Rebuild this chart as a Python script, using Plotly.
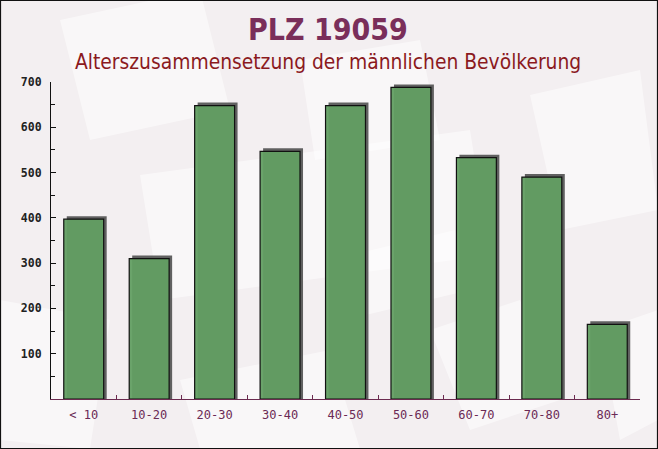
import plotly.graph_objects as go

categories = ["< 10", "10-20", "20-30", "30-40", "40-50", "50-60", "60-70", "70-80", "80+"]
values = [397, 310, 648, 547, 648, 688, 533, 490, 165]
y_ticks = [100, 200, 300, 400, 500, 600, 700]
title_text = "PLZ 19059"
subtitle_text = "Alterszusammensetzung der männlichen Bevölkerung"

W, H = 658, 449
L, R, T, B = 51, 18, 82, 50
PW, PH = W - L - R, H - T - B
YMAX = 700

def px(x):
    return (x - L) / PW

def py(y):
    return (H - B - y) / PH

# shadow offset: 3 px right, 3 px up
dx = 3 / (PW / len(categories))
dy = 3 / (PH / YMAX)

fig = go.Figure()

# shadow bars on base axes (hidden, shifted ranges) -> drawn first / behind
fig.add_trace(go.Bar(
    x=categories, y=[v + dy for v in values], base=[-dy] * len(values),
    xaxis="x", yaxis="y",
    marker=dict(color="rgba(80,80,80,0.9)", line=dict(width=0)),
    width=0.61, hoverinfo="skip", showlegend=False,
))
# main bars on overlay axes (visible)
fig.add_trace(go.Bar(
    x=categories, y=values,
    xaxis="x2", yaxis="y2",
    marker=dict(color="rgba(98,158,98,0.95)", line=dict(color="#111111", width=1.2)),
    width=0.61, showlegend=False,
))

# decorative envelope-like background shapes
shapes = []
envs = [
    [(60, 20), (200, -10), (230, 110), (90, 140)],
    [(140, 175), (470, 130), (490, 255), (160, 300)],
    [(300, 60), (420, 40), (440, 140), (315, 160)],
    [(530, 95), (640, 70), (658, 210), (560, 230)],
    [(430, 330), (520, 300), (560, 400), (470, 430)],
    [(600, 330), (658, 310), (658, 420), (620, 440)],
    [(0, 300), (110, 320), (90, 449), (0, 440)],
    [(180, 380), (330, 350), (360, 449), (200, 449)],
    [(330, 260), (455, 230), (470, 290), (345, 320)],
]
for poly in envs:
    path = "M " + " L ".join(f"{px(x)},{py(y)}" for x, y in poly) + " Z"
    shapes.append(dict(type="path", xref="paper", yref="paper", path=path,
                       fillcolor="rgba(255,255,255,0.5)", line=dict(width=0),
                       layer="below"))
# outer frame
shapes.append(dict(type="rect", xref="paper", yref="paper",
                   x0=px(0.5), x1=px(W - 0.5), y0=py(H - 0.5), y1=py(0.5),
                   line=dict(color="#111111", width=1.2), layer="above"))

annotations = [
    dict(text=title_text, xref="paper", yref="paper", x=px(328), y=py(30),
         xanchor="center", yanchor="middle", showarrow=False,
         font=dict(family="DejaVu Sans Condensed, DejaVu Sans", size=30, color="#7a2e5a", weight="bold")),
    dict(text=subtitle_text, xref="paper", yref="paper", x=px(328), y=py(62),
         xanchor="center", yanchor="middle", showarrow=False,
         font=dict(family="DejaVu Sans Condensed, DejaVu Sans", size=20.8, color="#8b1a1e")),
]

fig.update_layout(
    width=W, height=H,
    margin=dict(l=L, r=R, t=T, b=B, pad=0),
    paper_bgcolor="#f3eff1",
    plot_bgcolor="rgba(0,0,0,0)",
    bargap=0.39,
    barmode="overlay",
    shapes=shapes,
    annotations=annotations,
    xaxis=dict(
        type="category", range=[-0.5 - dx, len(categories) - 0.5 - dx],
        visible=False, showgrid=False, zeroline=False,
    ),
    yaxis=dict(
        range=[-dy, YMAX - dy], visible=False, showgrid=False, zeroline=False,
    ),
    xaxis2=dict(
        type="category", overlaying="x", anchor="y2", side="bottom",
        range=[-0.5, len(categories) - 0.5],
        showline=True, linecolor="#6b2a4f", linewidth=1.2,
        ticks="inside", tickson="boundaries", ticklen=4, tickcolor="#6b2a4f",
        showgrid=False, zeroline=False,
        tickfont=dict(family="DejaVu Sans Mono", size=12, color="#6b2a55"),
        ticklabelstandoff=4,
    ),
    yaxis2=dict(
        overlaying="y", anchor="x2", side="left",
        range=[0, YMAX], tickvals=y_ticks, ticktext=[str(v) for v in y_ticks],
        showline=True, linecolor="#111111", linewidth=1.2,
        ticks="inside", ticklen=5, tickcolor="#111111",
        minor=dict(ticks="inside", ticklen=4, dtick=50, tickcolor="#111111", showgrid=False),
        showgrid=False, zeroline=False,
        tickfont=dict(family="DejaVu Sans Mono", size=11.5, color="#222222", weight="bold"),
        ticklabelstandoff=6,
    ),
)

fig.write_html("out.html")
